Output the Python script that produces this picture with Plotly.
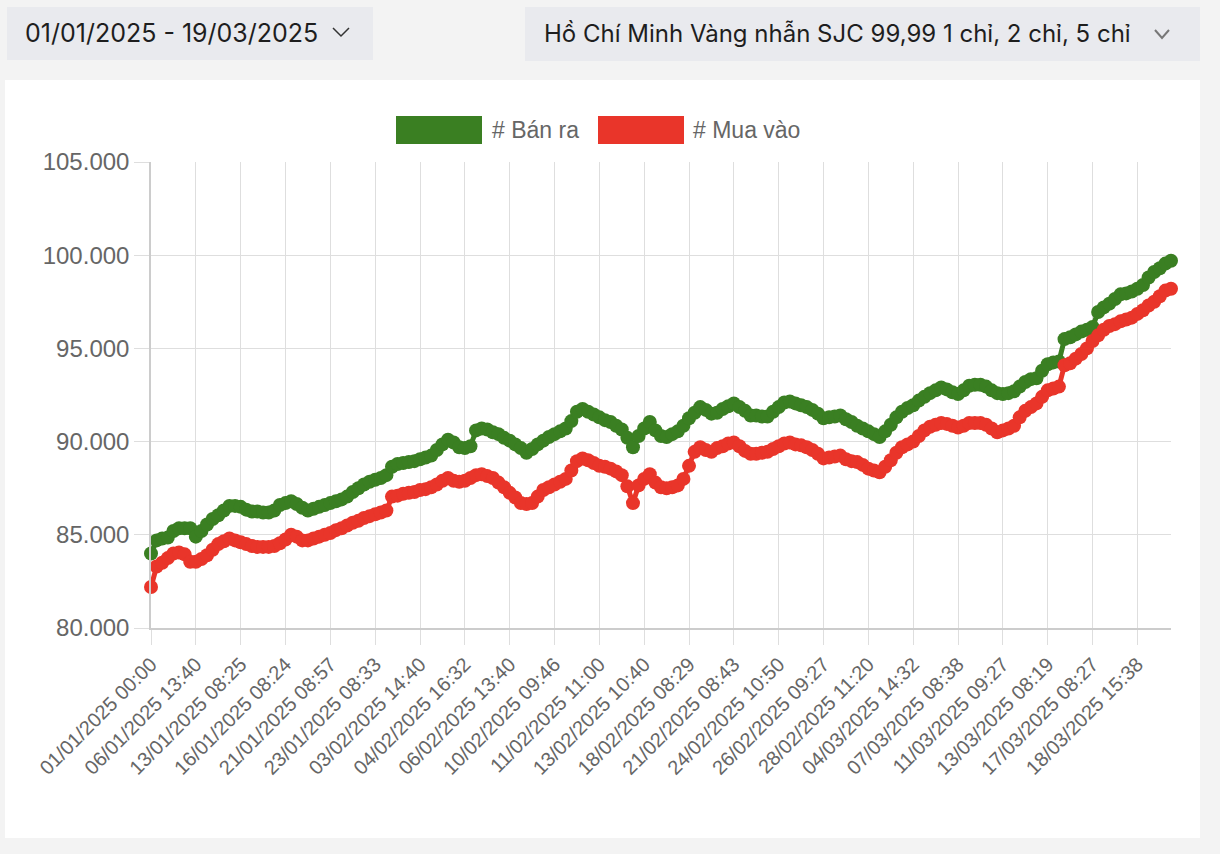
import plotly.graph_objects as go

# ---------------- data ----------------
tick_labels = ["01/01/2025 00:00", "06/01/2025 13:40", "13/01/2025 08:25", "16/01/2025 08:24",
               "21/01/2025 08:57", "23/01/2025 08:33", "03/02/2025 14:40", "04/02/2025 16:32",
               "06/02/2025 13:40", "10/02/2025 09:46", "11/02/2025 11:00", "13/02/2025 10:40",
               "18/02/2025 08:29", "21/02/2025 08:43", "24/02/2025 10:50", "26/02/2025 09:27",
               "28/02/2025 11:20", "04/03/2025 14:32", "07/03/2025 08:38", "11/03/2025 09:27",
               "13/03/2025 08:19", "17/03/2025 08:27", "18/03/2025 15:38"]

ban_ra = [
    84000, 84700, 84800, 84850, 85200, 85350, 85350, 85350, 84900, 85200,
    85550, 85850, 86050, 86300, 86550, 86550, 86500, 86350, 86250, 86250,
    86200, 86200, 86300, 86600, 86700, 86800, 86650, 86450, 86300, 86400,
    86500, 86600, 86700, 86800, 86900, 87050, 87300, 87500, 87700, 87850,
    87950, 88050, 88200, 88650, 88800, 88850, 88900, 88950, 89050, 89150,
    89250, 89550, 89850, 90100, 89950, 89700, 89650, 89750, 90600, 90700,
    90650, 90500, 90400, 90200, 90050, 89850, 89650, 89400, 89600, 89850,
    90050, 90250, 90400, 90550, 90700, 91100, 91600, 91750, 91600, 91450,
    91300, 91150, 91050, 90850, 90650, 90200, 89700, 90300, 90700, 91050,
    90600, 90300, 90250, 90400, 90550, 90850, 91250, 91550, 91850, 91700,
    91500, 91550, 91750, 91900, 92050, 91850, 91650, 91400, 91400, 91350,
    91350, 91600, 91850, 92100, 92150, 92050, 91950, 91850, 91700, 91500,
    91250, 91300, 91350, 91400, 91200, 91050, 90850, 90700, 90550, 90400,
    90250, 90550, 90900, 91300, 91600, 91800, 91950, 92200, 92400, 92600,
    92750, 92900, 92800, 92650, 92550, 92750, 93000, 93050, 93050, 92950,
    92750, 92600, 92550, 92600, 92700, 92950, 93200, 93350, 93400, 93800,
    94150, 94250, 94300, 95500, 95600, 95750, 95900, 96000, 96150, 96950,
    97200, 97400, 97650, 97900, 97950, 98050, 98200, 98400, 98800, 99100,
    99300, 99550, 99700]

mua_vao = [
    82200, 83300, 83500, 83750, 84000, 84050, 83950, 83550, 83550, 83700,
    83900, 84200, 84500, 84650, 84800, 84700, 84600, 84500, 84400, 84350,
    84350, 84350, 84400, 84550, 84750, 85000, 84900, 84700, 84700, 84800,
    84900, 85000, 85100, 85250, 85350, 85500, 85650, 85750, 85900, 86000,
    86100, 86200, 86300, 87050, 87100, 87200, 87250, 87300, 87400, 87450,
    87550, 87700, 87900, 88050, 87900, 87850, 87900, 88050, 88200, 88250,
    88150, 88050, 87800, 87550, 87250, 87000, 86700, 86650, 86700, 87050,
    87400, 87550, 87700, 87850, 88000, 88450, 88950, 89100, 89000, 88850,
    88700, 88650, 88550, 88400, 88200, 87600, 86700, 87650, 88000, 88250,
    87800, 87550, 87500, 87550, 87650, 88000, 88700, 89450, 89700, 89550,
    89450, 89650, 89750, 89900, 89950, 89750, 89500, 89350, 89350, 89400,
    89450, 89600, 89750, 89900, 89950, 89850, 89800, 89700, 89550, 89350,
    89100, 89150, 89200, 89250, 89050, 88950, 88900, 88750, 88550, 88450,
    88350, 88650, 89000, 89400, 89700, 89850, 90000, 90300, 90600, 90800,
    90900, 91000, 90950, 90850, 90750, 90850, 91000, 91000, 91000, 90900,
    90700, 90500, 90600, 90700, 90850, 91300, 91650, 91850, 92050, 92400,
    92750, 92850, 92950, 94100, 94200, 94450, 94700, 95000, 95400, 95700,
    96000, 96200, 96300, 96450, 96550, 96650, 96850, 97050, 97300, 97500,
    97800, 98100, 98200]

series_names = ["# Bán ra", "# Mua vào"]
date_range_text = "01/01/2025 - 19/03/2025"
product_text = "Hồ Chí Minh Vàng nhẫn SJC 99,99 1 chỉ, 2 chỉ, 5 chỉ"

# ---------------- styling ----------------
W, H = 1220, 854
L, R, T, B = 151, 1171, 162, 628
GREEN = "#3a7f22"
RED = "#e9352a"
FONT = "Liberation Sans, Arial, sans-serif"
HFONT = "Inter, Liberation Sans, sans-serif"


def px(x):
    return (x - L) / (R - L)


def py(y):
    return (B - y) / (B - T)


n = len(ban_ra)
xs = list(range(n))
step = 8
tickvals = [i * step for i in range(len(tick_labels))]

fig = go.Figure()
fig.add_trace(go.Scatter(x=xs, y=ban_ra, mode="lines+markers", name=series_names[0],
                         line=dict(color=GREEN, width=5),
                         marker=dict(color=GREEN, size=14, line=dict(width=0)),
                         cliponaxis=False, showlegend=False))
fig.add_trace(go.Scatter(x=xs, y=mua_vao, mode="lines+markers", name=series_names[1],
                         line=dict(color=RED, width=5),
                         marker=dict(color=RED, size=14, line=dict(width=0)),
                         cliponaxis=False, showlegend=False))

shapes = [
    # white card
    dict(type="rect", xref="paper", yref="paper", x0=px(5), x1=px(1200), y0=py(838), y1=py(80),
         fillcolor="white", line=dict(width=0), layer="below"),
    # dropdown boxes
    dict(type="rect", xref="paper", yref="paper", x0=px(7), x1=px(373), y0=py(60), y1=py(7),
         fillcolor="#e9eaee", line=dict(width=0), layer="below"),
    dict(type="rect", xref="paper", yref="paper", x0=px(525), x1=px(1200), y0=py(61), y1=py(7),
         fillcolor="#e9eaee", line=dict(width=0), layer="below"),
    # chevrons
    dict(type="path", xref="paper", yref="paper",
         path=f"M {px(333)},{py(28)} L {px(341)},{py(36)} L {px(349)},{py(28)}",
         line=dict(color="#333333", width=1.5)),
    dict(type="path", xref="paper", yref="paper",
         path=f"M {px(1155)},{py(30)} L {px(1162)},{py(38)} L {px(1169)},{py(30)}",
         line=dict(color="#777777", width=2)),
    # legend boxes
    dict(type="rect", xref="paper", yref="paper", x0=px(396), x1=px(482), y0=py(144), y1=py(116),
         fillcolor=GREEN, line=dict(width=0)),
    dict(type="rect", xref="paper", yref="paper", x0=px(598), x1=px(684), y0=py(144), y1=py(116),
         fillcolor=RED, line=dict(width=0)),
]

annotations = [
    dict(text=date_range_text, xref="paper", yref="paper", x=px(23), y=py(33),
         xanchor="left", yanchor="middle", showarrow=False,
         font=dict(family=HFONT, size=25, color="#1e1e1e")),
    dict(text=product_text, xref="paper", yref="paper", x=px(542), y=py(33),
         xanchor="left", yanchor="middle", showarrow=False,
         font=dict(family=HFONT, size=24, color="#1e1e1e")),
    dict(text=series_names[0], xref="paper", yref="paper", x=px(490), y=py(130),
         xanchor="left", yanchor="middle", showarrow=False,
         font=dict(family=FONT, size=23, color="#666666")),
    dict(text=series_names[1], xref="paper", yref="paper", x=px(691), y=py(130),
         xanchor="left", yanchor="middle", showarrow=False,
         font=dict(family=FONT, size=23, color="#666666")),
]

fig.update_layout(
    width=W, height=H,
    margin=dict(l=L, r=W - R, t=T, b=H - B, pad=0),
    paper_bgcolor="#f3f3f3", plot_bgcolor="white",
    separators=",.",
    shapes=shapes, annotations=annotations,
    showlegend=False,
    font=dict(family=FONT, color="#666666"),
)
fig.update_xaxes(range=[0, n - 1], tickmode="array", tickvals=tickvals, ticktext=tick_labels,
                 tickangle=-45, ticks="outside", ticklen=15, tickcolor="#dedede",
                 showgrid=True, gridcolor="#dedede", gridwidth=1,
                 showline=True, linecolor="#cccccc", linewidth=1.5,
                 zeroline=False, tickfont=dict(family=FONT, size=20, color="#666666"))
fig.update_yaxes(range=[80000, 105000], tickmode="array",
                 tickvals=[80000, 85000, 90000, 95000, 100000, 105000],
                 tickformat=",", ticks="outside", ticklen=15, tickcolor="#dedede",
                 showgrid=True, gridcolor="#dedede", gridwidth=1,
                 showline=True, linecolor="#cccccc", linewidth=1.5,
                 zeroline=False, tickfont=dict(family=FONT, size=24, color="#666666"))

fig.write_html("out.html")
